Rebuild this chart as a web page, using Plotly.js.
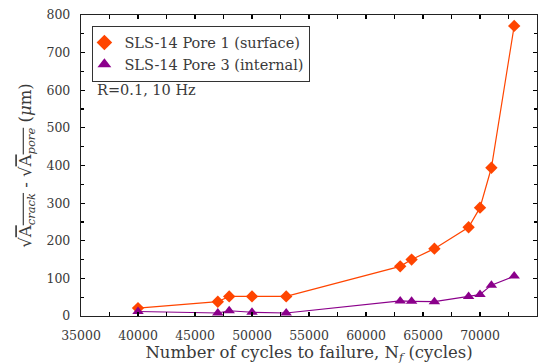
<!DOCTYPE html>
<html>
<head>
<meta charset="utf-8">
<script src="https://cdn.plot.ly/plotly-3.0.1.min.js"></script>
<style>html,body{margin:0;padding:0;background:#fff;}#chart{width:556px;height:364px;}</style>
</head>
<body>
<div id="chart"></div>
<script>
const cyclesSurface = [40000, 47000, 48000, 50000, 53000, 63000, 64000, 66000, 69000, 70000, 71000, 73000];
const growthSurface = [21, 38, 52, 52, 52, 132, 150, 179, 236, 288, 394, 771];
const cyclesInternal = [40000, 47000, 48000, 50000, 53000, 63000, 64000, 66000, 69000, 70000, 71000, 73000];
const growthInternal = [12, 8, 14, 10, 8, 40, 39, 38, 52, 57, 82, 106];
const seriesNames = ["SLS-14 Pore 1 (surface)", "SLS-14 Pore 3 (internal)"];
const annotationText = "R=0.1, 10 Hz";

const FONT = "DejaVu Serif";
const ORANGE = "#ff4500";
const PURPLE = "#8b008b";
const TXT = "#3a3a3a";

const traces = [
  {
    x: cyclesSurface, y: growthSurface, showlegend: false, hoverinfo: "skip",
    type: "scatter", mode: "lines", line: {color: ORANGE, width: 1.2}
  },
  {
    x: cyclesInternal, y: growthInternal, showlegend: false, hoverinfo: "skip",
    type: "scatter", mode: "lines", line: {color: PURPLE, width: 1.2}
  },
  {
    x: cyclesSurface, y: growthSurface, name: seriesNames[0],
    type: "scatter", mode: "markers",
    marker: {symbol: "diamond", size: 9.5, color: ORANGE}
  },
  {
    x: cyclesInternal, y: growthInternal, name: seriesNames[1],
    type: "scatter", mode: "markers",
    marker: {symbol: "triangle-up", size: 10, color: PURPLE}
  }
];

const axisCommon = {
  showline: true, linecolor: "#222", linewidth: 1.2, mirror: "ticks",
  ticks: "inside", ticklen: 4, tickwidth: 1.2, tickcolor: "#000",
  showgrid: false, zeroline: false, tickformat: "d",
  tickfont: {family: FONT, size: 12.5, color: TXT}
};

const layout = {
  width: 556, height: 364,
  margin: {l: 81, r: 19, t: 15, b: 48},
  paper_bgcolor: "#fff", plot_bgcolor: "#fff",
  font: {family: FONT, color: TXT},
  showlegend: true,
  legend: {
    x: 0.025, y: 0.965, xanchor: "left", yanchor: "top",
    bgcolor: "#fff", bordercolor: "#333", borderwidth: 1,
    font: {family: FONT, size: 14.5, color: TXT},
    tracegroupgap: 0, itemwidth: 30, indentation: -9, itemsizing: "constant"
  },
  xaxis: Object.assign({}, axisCommon, {
    range: [35000, 75000], dtick: 5000, tick0: 35000, ticklabelstandoff: 8,
    minor: {dtick: 2500, ticks: "inside", ticklen: 4, tickwidth: 1.2, tickcolor: "#000"},
    title: {text: "Number of cycles to failure, N<sub><i>f</i></sub> (cycles)", font: {family: FONT, size: 16.5, color: TXT}, standoff: 0}
  }),
  yaxis: Object.assign({}, axisCommon, {
    range: [0, 800], dtick: 100, ticklabelstandoff: 7,
    minor: {dtick: 50, ticks: "inside", ticklen: 3, tickwidth: 1.2, tickcolor: "#000"},
    title: {text: '√<span style="text-decoration:overline">A<sub><i>crack</i></sub></span> - √<span style="text-decoration:overline">A<sub><i>pore</i></sub></span> (<i>μ</i>m)', font: {family: FONT, size: 16.5, color: TXT}, standoff: 10}
  }),
  annotations: [{
    text: annotationText, xref: "paper", yref: "paper", x: 0.03, y: 0.75,
    xanchor: "left", yanchor: "middle", showarrow: false,
    font: {family: FONT, size: 14.5, color: TXT}
  }]
};

Plotly.newPlot("chart", traces, layout, {displayModeBar: false, staticPlot: true});
</script>
</body>
</html>
